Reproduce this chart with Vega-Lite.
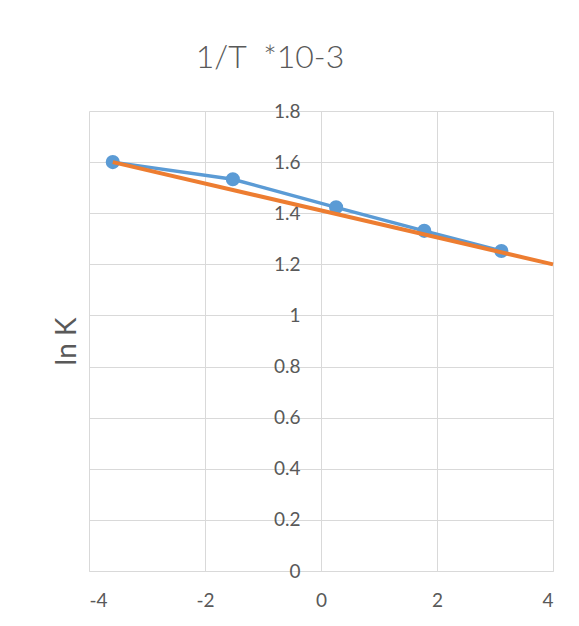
{
  "$schema": "https://vega.github.io/schema/vega-lite/v6.json",
  "width": 464,
  "height": 460,
  "autosize": "none",
  "padding": {"left": 89, "top": 111, "right": 26, "bottom": 55},
  "background": "white",
  "config": {
    "view": {"stroke": null},
    "font": "Lato",
    "axis": {
      "gridColor": "#D9D9D9",
      "gridWidth": 1,
      "domainColor": "#D9D9D9",
      "domainWidth": 1,
      "ticks": false,
      "labelColor": "#595959",
      "labelFont": "Lato",
      "labelFontSize": 19,
      "titleColor": "#595959",
      "titleFont": "Lato",
      "titleFontWeight": "normal"
    }
  },
  "title": {
    "text": "1/T \u00a0*10-3",
    "font": "Lato",
    "fontSize": 32,
    "fontWeight": 300,
    "color": "#595959",
    "anchor": "middle",
    "dx": -51,
    "offset": 27
  },
  "datasets": {
    "series": [
      {"x": -3.59, "y": 1.6},
      {"x": -1.52, "y": 1.533},
      {"x": 0.26, "y": 1.423},
      {"x": 1.78, "y": 1.331},
      {"x": 3.11, "y": 1.252}
    ],
    "trend": [
      {"x": -3.59, "y": 1.6},
      {"x": 4.0, "y": 1.2}
    ]
  },
  "layer": [
    {
      "data": {"name": "series"},
      "mark": {"type": "line", "color": "#5B9BD5", "strokeWidth": 3.5, "clip": false},
      "encoding": {
        "x": {
          "field": "x",
          "type": "quantitative",
          "scale": {"domain": [-4, 4], "nice": false, "zero": false},
          "axis": {
            "values": [-4, -2, 0, 2, 4],
            "labelExpr": "'' + datum.value",
            "title": null,
            "labelPadding": 20,
            "grid": true
          }
        },
        "y": {
          "field": "y",
          "type": "quantitative",
          "scale": {"domain": [0, 1.8], "nice": false},
          "axis": {
            "values": [0, 0.2, 0.4, 0.6, 0.8, 1, 1.2, 1.4, 1.6, 1.8],
            "labelExpr": "'' + datum.value",
            "offset": -232,
            "labelPadding": 21,
            "grid": true,
            "title": "ln K",
            "titleFontSize": 28,
            "titleX": -254,
            "titleY": 230,
            "titleAngle": -90,
            "titleBaseline": "middle",
            "titleAlign": "center"
          }
        }
      }
    },
    {
      "data": {"name": "series"},
      "mark": {"type": "point", "filled": true, "color": "#5B9BD5", "size": 200, "opacity": 1, "clip": false},
      "encoding": {
        "x": {"field": "x", "type": "quantitative"},
        "y": {"field": "y", "type": "quantitative"}
      }
    },
    {
      "data": {"name": "trend"},
      "mark": {"type": "line", "color": "#ED7D31", "strokeWidth": 4, "clip": false},
      "encoding": {
        "x": {"field": "x", "type": "quantitative"},
        "y": {"field": "y", "type": "quantitative"}
      }
    }
  ]
}
